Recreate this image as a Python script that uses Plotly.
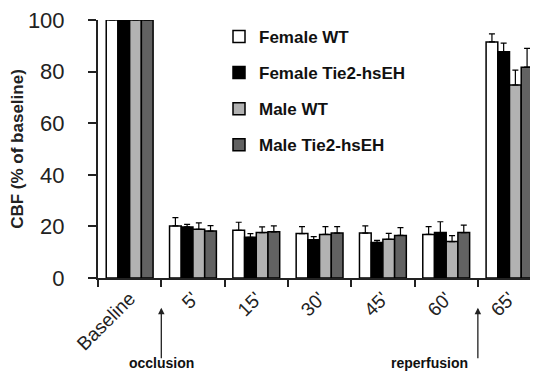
import plotly.graph_objects as go

categories = ["Baseline", "5'", "15'", "30'", "45'", "60'", "65'"]
series_names = ["Female WT", "Female Tie2-hsEH", "Male WT", "Male Tie2-hsEH"]
female_wt = [100, 20.2, 18.5, 17.2, 17.4, 16.9, 91.5]
female_wt_err = [0, 3.2, 3.1, 2.7, 2.8, 3.0, 3.1]
female_tie = [100, 19.8, 15.8, 14.8, 13.8, 17.6, 87.7]
female_tie_err = [0, 1.0, 1.4, 1.2, 0.8, 4.2, 3.3]
male_wt = [100, 18.9, 17.6, 16.9, 15.0, 14.1, 74.8]
male_wt_err = [0, 2.5, 2.2, 3.0, 2.3, 2.3, 5.8]
male_tie = [100, 18.2, 17.9, 17.4, 16.5, 17.6, 81.7]
male_tie_err = [0, 2.1, 2.3, 2.5, 3.0, 2.9, 7.3]

values = [female_wt, female_tie, male_wt, male_tie]
errors = [female_wt_err, female_tie_err, male_wt_err, male_tie_err]
colors = ["#ffffff", "#000000", "#b2b2b2", "#626262"]

FONT = "Arial, Liberation Sans, sans-serif"

fig = go.Figure()
for i, (name, v, e, c) in enumerate(zip(series_names, values, errors, colors)):
    fig.add_trace(go.Bar(
        x=categories, y=v, name=name,
        marker=dict(color=c, line=dict(color="#000000", width=1.5)),
        error_y=dict(type="data", array=e, arrayminus=[0]*len(e), symmetric=False,
                     color="#000000", thickness=1.2, width=3),
        legendgroup=f"g{i}",
        cliponaxis=False,
    ))

# the page body has an 8px default margin; the figure is sized to fit the window
fig.update_layout(
    width=530, height=366,
    margin=dict(l=90, r=0, t=12, b=96, autoexpand=False),
    paper_bgcolor="white", plot_bgcolor="white",
    barmode="group", bargap=0.26, bargroupgap=0,
    font=dict(family=FONT, color="#222222"),
    showlegend=True,
    legend=dict(x=0.275, y=1.004, xanchor="left", yanchor="top",
                font=dict(size=17, weight="bold", color="#111111"),
                traceorder="grouped", tracegroupgap=11,
                bgcolor="rgba(0,0,0,0)"),
    xaxis=dict(range=[-0.5, 6.45], showline=True, linecolor="#222222", linewidth=2,
               ticks="outside", tickson="boundaries", ticklen=7, tickwidth=2, tickcolor="#222222",
               tickangle=-45, tickfont=dict(size=19, color="#222222"), showgrid=False,
               zeroline=False, automargin=False, ticklabeloverflow="allow"),
    yaxis=dict(range=[0, 100], showline=True, linecolor="#222222", linewidth=2,
               ticks="outside", ticklen=8, tickwidth=2, tickcolor="#222222",
               tickvals=[0, 20, 40, 60, 80, 100], tickfont=dict(size=22, color="#222222"),
               ticklabelstandoff=19, ticklabeloverflow="allow",
               showgrid=False, zeroline=False, automargin=False,
               title=dict(text="CBF (% of baseline)", font=dict(size=17, weight="bold", color="#222222"),
                          standoff=10)),
)

# arrows
fig.add_annotation(x=0.5, xref="x", y=-0.115, yref="paper", text="", showarrow=True,
                   arrowhead=2, arrowsize=1, arrowwidth=1.3, arrowcolor="#222222",
                   ax=0, ay=52)
fig.add_annotation(x=5.5, xref="x", y=-0.115, yref="paper", text="", showarrow=True,
                   arrowhead=2, arrowsize=1, arrowwidth=1.3, arrowcolor="#222222",
                   ax=0, ay=52)
fig.add_annotation(x=0.5, xref="x", y=-0.37, yref="paper", text="occlusion", showarrow=False,
                   font=dict(size=14, weight="bold", color="#111111"), yanchor="bottom")
fig.add_annotation(x=4.73, xref="x", y=-0.37, yref="paper", text="reperfusion", showarrow=False,
                   font=dict(size=14, weight="bold", color="#111111"), yanchor="bottom")

fig.write_html("out.html")
